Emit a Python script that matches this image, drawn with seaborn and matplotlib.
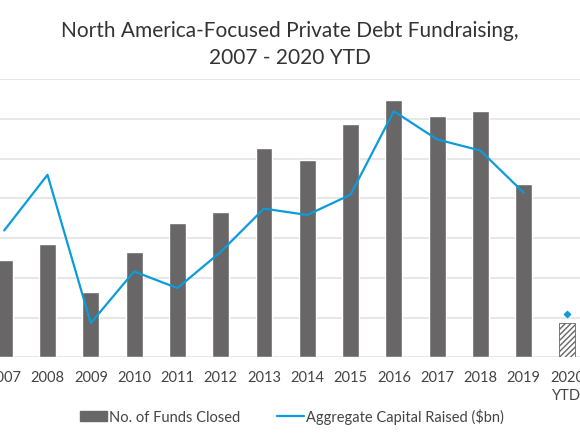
import numpy as np
import pandas as pd
import seaborn as sns
import matplotlib.pyplot as plt
from matplotlib.patches import Patch
from matplotlib.lines import Line2D

years = ["2007", "2008", "2009", "2010", "2011", "2012", "2013",
         "2014", "2015", "2016", "2017", "2018", "2019", "2020\nYTD"]
funds_closed = [24.5, 28.5, 16.4, 26.5, 33.9, 36.6, 52.7,
                49.7, 58.8, 64.6, 60.6, 62.0, 43.5, 8.6]
capital_raised = [31.9, 45.9, 8.6, 21.6, 17.4, 26.5, 37.4,
                  35.8, 40.9, 61.9, 54.8, 52.0, 41.4, 10.9]

BAR = "#686666"
BLUE = "#0A9CDB"

sns.set_theme(style="white")
plt.rcParams['font.family'] = ['Lato', 'DejaVu Sans']

df = pd.DataFrame({"year": years, "funds": funds_closed, "capital": capital_raised})
df["pos"] = np.arange(len(df))

fig = plt.figure(figsize=(5.8, 4.35), dpi=100)
ax = fig.add_axes([0, 1 - 358.3 / 435, 1, (358.3 - 80) / 435])

sns.barplot(data=df, x="year", y="funds", color=BAR, width=0.39,
            saturation=1, ax=ax, zorder=2)
last = ax.patches[-1]
last.set_facecolor("white")
last.set_hatch("//////")
last.set_edgecolor(BAR)
last.set_linewidth(0.6)
plt.rcParams['hatch.color'] = BAR

hist = df.iloc[:-1]
sns.lineplot(data=hist, x="pos", y="capital", color=BLUE, linewidth=1.6,
             ax=ax, zorder=3)
ytd = df.iloc[-1:]
ax.scatter(ytd["pos"], ytd["capital"], marker="D", s=10, color=BLUE, zorder=3)

ax.set_xlim(-0.097, 13.3)
ax.set_ylim(0, 70)
ax.set_yticks(np.arange(0, 71, 10))
ax.yaxis.grid(True, color="#E3E3E3", linewidth=1.2, zorder=0)
ax.set_axisbelow(True)
for s in ax.spines.values():
    s.set_visible(False)
ax.set_yticklabels([])
ax.tick_params(axis="y", length=0)
ax.tick_params(axis="x", length=0, pad=9, labelsize=10.5, labelcolor="#444444")
ax.set_xlabel("")
ax.set_ylabel("")
for lab in ax.get_xticklabels():
    lab.set_linespacing(1.4)
    lab.set_verticalalignment("top")

fig.text(0.5, 0.952, "North America-Focused Private Debt Fundraising,\n2007 - 2020 YTD",
         ha="center", va="top", fontsize=15, color="#333333", linespacing=1.45)

handles = [Patch(facecolor=BAR, edgecolor=BAR),
           Line2D([0], [0], color=BLUE, linewidth=1.6)]
fig.legend(handles, ["No. of Funds Closed", "Aggregate Capital Raised ($bn)"],
           loc="center", bbox_to_anchor=(0.503, 0.041), ncol=2, frameon=False,
           fontsize=10.5, handlelength=1.9, handletextpad=0.1, columnspacing=2.5,
           labelcolor="#444444")

fig.savefig("out.png", dpi=100)
